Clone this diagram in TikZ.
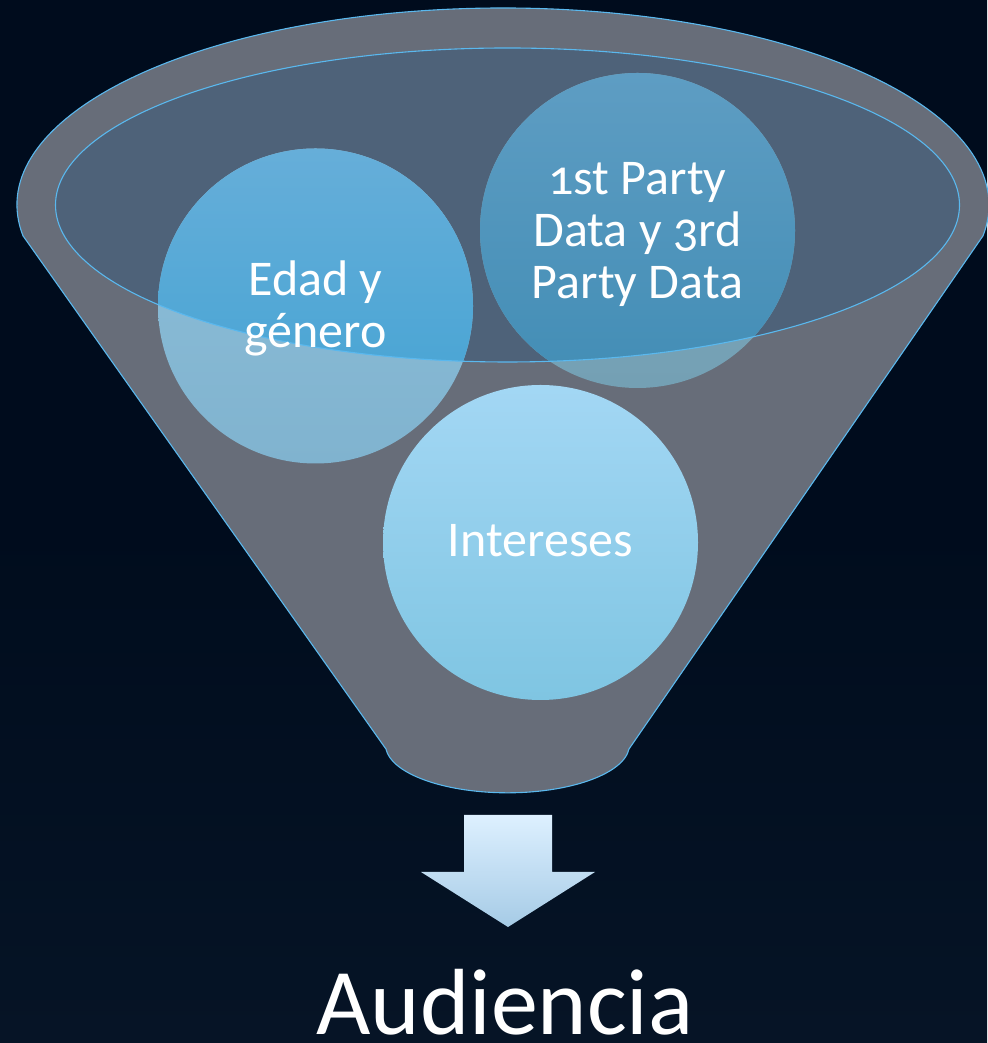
\documentclass[tikz,border=0pt]{standalone}
\usepackage{fontspec}
\setmainfont{Carlito}[Numbers=OldStyle]
\definecolor{bgtop}{HTML}{000C1D}
\definecolor{bgbot}{HTML}{061426}
\definecolor{funnelgray}{HTML}{676D79}
\definecolor{rimfill}{HTML}{4E6279}
\definecolor{rimline}{HTML}{5AB8EE}
\definecolor{edadTin}{HTML}{66AED9}
\definecolor{edadBin}{HTML}{40A2D3}
\definecolor{edadTout}{HTML}{8EBFD9}
\definecolor{edadBout}{HTML}{80B3CF}
\definecolor{partyTin}{HTML}{5E9DC3}
\definecolor{partyBin}{HTML}{428DB5}
\definecolor{partyTout}{HTML}{80AABE}
\definecolor{partyBout}{HTML}{74A0B4}
\definecolor{intT}{HTML}{A3D7F4}
\definecolor{intB}{HTML}{7FC5E2}
\definecolor{arrT}{HTML}{DDF0FF}
\definecolor{arrB}{HTML}{A6CBE6}
\begin{document}
\begin{tikzpicture}[x=1pt,y=1pt,
  bubble/.style={circle, minimum size=315pt, inner sep=0pt, draw=none},
  bubbletext/.style={text=white, font=\fontsize{50}{52}\selectfont, align=center, inner sep=0pt},
  rim/.style={draw=rimline, line width=1.1pt}]
% background
\shade[top color=bgtop, bottom color=bgbot, middle color=bgtop] (0,0) rectangle (987,1043);
\useasboundingbox (0,0) rectangle (987,1043);
% funnel body
\path[fill=funnelgray, rim]
  (503,838) ++(189:486 and 197) arc[start angle=189, end angle=-9, x radius=486, y radius=197]
  -- (629,294) arc[start angle=-5, end angle=-175, x radius=122, y radius=48] -- cycle;
% inner rim ellipse
\fill[rimfill] (507.5,838) ellipse[x radius=452, y radius=157];
% bubbles (outside colours)
\node[bubble, top color=edadTout, bottom color=edadBout] (edad) at (315.5,737) {};
\node[bubble, top color=partyTout, bottom color=partyBout] (party) at (637.5,812.5) {};
\node[bubble, top color=intT, bottom color=intB] (intereses) at (540.5,500.5) {};
% parts of the bubbles inside the rim
\begin{scope}
  \clip (507.5,838) ellipse[x radius=452, y radius=157];
  \path[top color=edadTin, bottom color=edadBin] (edad.center) circle[radius=157.5];
  \path[top color=partyTin, bottom color=partyBin] (party.center) circle[radius=157.5];
\end{scope}
\draw[rim] (507.5,838) ellipse[x radius=452, y radius=157];
% labels
\node[bubbletext] (edadlabel) at ([yshift=-2pt]edad.center) {Edad y\\género};
\node[bubbletext] (partylabel) at ([yshift=-4pt]party.center) {1st Party\\Data y 3rd\\Party Data};
\node[bubbletext, anchor=base] (intlabel) at ([yshift=-14pt]intereses.center) {Intereses};
% arrow
\path[top color=arrT, bottom color=arrB] (464,228) -- (552,228) -- (552,171) -- (595,171) -- (508,116) -- (421,171) -- (464,171) -- cycle;
\node[text=white, font=\fontsize{94}{98}\selectfont, anchor=base, inner sep=0pt] (audiencia) at (505,9) {Audiencia};
\end{tikzpicture}
\end{document}
